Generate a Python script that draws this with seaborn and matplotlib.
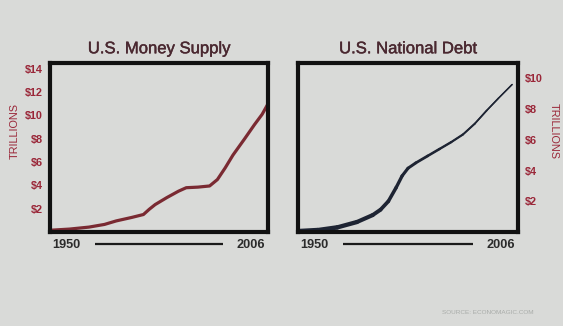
import numpy as np
import pandas as pd
import matplotlib
matplotlib.use("Agg")
import matplotlib.pyplot as plt
import matplotlib.patheffects as pe
import seaborn as sns
from matplotlib.collections import LineCollection

# U.S. money supply, trillions of dollars
money_years = [1950, 1955, 1960, 1964, 1967, 1971, 1974, 1975.5, 1977, 1980, 1983, 1985,
               1988, 1991, 1993, 1995, 1997, 2000, 2002.5, 2004.5, 2006]
money_vals = [0.15, 0.25, 0.42, 0.65, 0.95, 1.25, 1.5, 1.95, 2.35, 2.95, 3.5, 3.8,
              3.85, 3.95, 4.5, 5.5, 6.6, 8.0, 9.2, 10.1, 11.0]

# U.S. national debt, trillions of dollars
debt_years = [1950, 1955, 1960, 1965, 1969, 1971, 1973, 1975, 1976.5, 1978, 1980,
              1983, 1986, 1989, 1992, 1995, 1998, 2001, 2004.5]
debt_vals = [0.05, 0.12, 0.3, 0.65, 1.1, 1.45, 2.0, 2.9, 3.65, 4.15, 4.5,
             4.95, 5.4, 5.85, 6.35, 7.05, 7.9, 8.7, 9.6]

money_ticks = [2, 4, 6, 8, 10, 12, 14]
debt_ticks = [2, 4, 6, 8, 10]
tick_labels_money = [f"${v}" for v in money_ticks]
tick_labels_debt = [f"${v}" for v in debt_ticks]

bg = "#d9dad8"
red = "#9a2638"
title_col = "#4a2830"
year_col = "#2b2b2b"

sns.set_theme(style="white")
plt.rcParams["font.family"] = ["Liberation Sans", "DejaVu Sans"]

fig = plt.figure(figsize=(5.63, 3.26), dpi=100, facecolor=bg)
ax1 = fig.add_axes([50 / 563, 1 - 232 / 326, 218 / 563, 169 / 326])
ax2 = fig.add_axes([298 / 563, 1 - 232 / 326, 220 / 563, 169 / 326])

money = pd.DataFrame({"year": money_years, "value": money_vals})
debt = pd.DataFrame({"year": debt_years, "value": debt_vals})

sns.lineplot(data=money, x="year", y="value", ax=ax1, color="#7a2a32",
             linewidth=2.3, solid_capstyle="round", solid_joinstyle="round")
sns.lineplot(data=debt, x="year", y="value", ax=ax2, color="#1e2433",
             linewidth=1.0, solid_capstyle="round", solid_joinstyle="round")

# tapered stroke for the debt curve: heavy at the start, thin at the end
pts = np.column_stack([debt_years, debt_vals])
segs = np.stack([pts[:-1], pts[1:]], axis=1)
widths = np.linspace(3.4, 1.0, len(segs))
ax2.add_collection(LineCollection(segs, linewidths=widths, colors="#1e2433",
                                  capstyle="round", joinstyle="round"))

title_fx = [pe.withStroke(linewidth=0.3, foreground=title_col)]

for ax in (ax1, ax2):
    ax.set_facecolor(bg)
    ax.set_xlim(1950, 2006)
    ax.set_xticks([])
    ax.set_xlabel("")
    ax.set_ylabel("")
    for s in ax.spines.values():
        s.set_visible(True)
        s.set_color("#111111")
        s.set_linewidth(3.0)
    ax.tick_params(axis="y", length=0, pad=5, labelsize=7.8, labelcolor=red)
    for lbl_x, txt in ((0.076, "1950"), (0.922, "2006")):
        ax.text(lbl_x, -0.077, txt, transform=ax.transAxes, ha="center", va="center",
                fontsize=9.2, fontweight="bold", color=year_col)
    ax.plot([0.205, 0.795], [-0.073, -0.073], transform=ax.transAxes,
            color="#1a1a1a", linewidth=1.6, clip_on=False, solid_capstyle="butt")

ax1.set_ylim(0, 14.5)
ax1.set_yticks(money_ticks)
ax1.set_yticklabels(tick_labels_money, fontweight="bold")
ax1.set_title("U.S. Money Supply", fontsize=12, color=title_col, pad=7,
              path_effects=title_fx)
ax1.text(-0.16, 0.60, "TRILLIONS", transform=ax1.transAxes, rotation=90,
         ha="center", va="center", fontsize=7.8, color=red)

ax2.set_ylim(0, 11)
ax2.yaxis.tick_right()
ax2.set_yticks(debt_ticks)
ax2.set_yticklabels(tick_labels_debt, fontweight="bold")
ax2.set_title("U.S. National Debt", fontsize=12, color=title_col, pad=7,
              path_effects=title_fx)
ax2.text(1.16, 0.60, "TRILLIONS", transform=ax2.transAxes, rotation=-90,
         ha="center", va="center", fontsize=7.8, color=red)

fig.text(488 / 563, 1 - 313 / 326, "SOURCE: ECONOMAGIC.COM", ha="center",
         va="center", fontsize=4.6, color="#a9aca9")

fig.savefig("out.png", dpi=100, facecolor=bg)
